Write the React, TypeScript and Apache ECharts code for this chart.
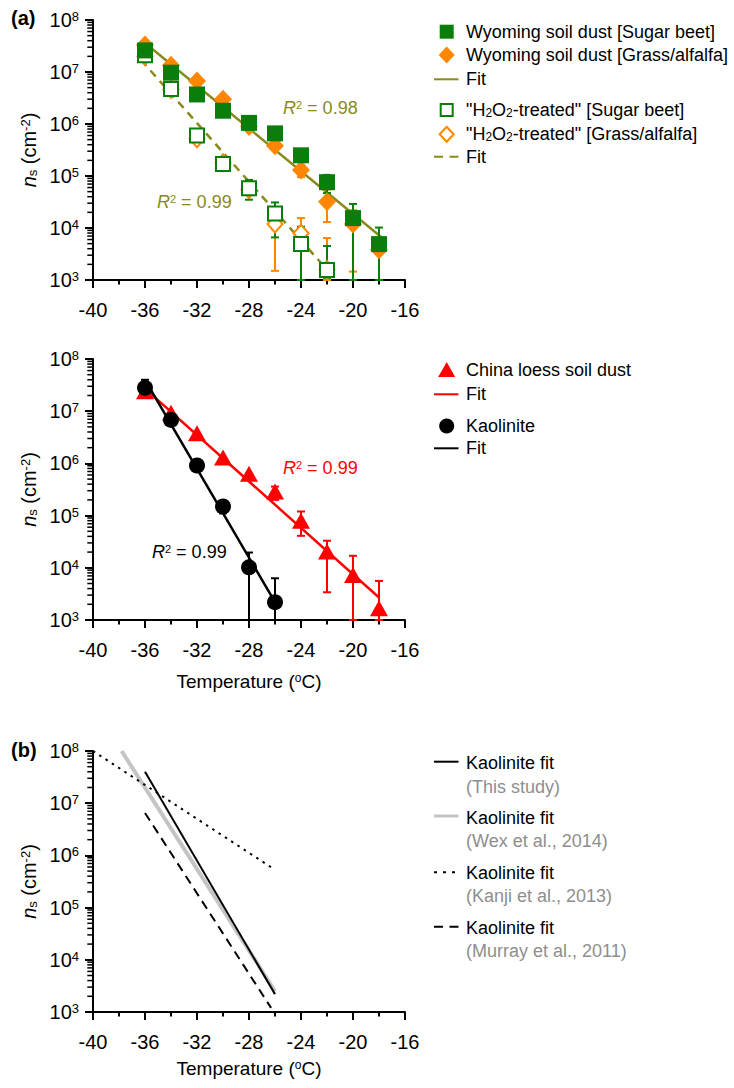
import React, { useEffect, useRef } from 'react';
import * as echarts from 'echarts';

const FONT = '"Liberation Sans", Arial, Helvetica, sans-serif';
const GREEN = '#0b7d0b';
const ORANGE = '#ff8600';
const OLIVE = '#8a8a1c';
const RED = '#ff0000';
const BLACK = '#000000';
const GRAY = '#c4c4c4';
const NOTE = '#8e8e8e';

// ---- panel (a) top: Wyoming soil dust ----
const T_WY = [-36, -34, -32, -30, -28, -26, -24, -22, -20, -18];
const SUGAR_BEET = [2.6e7, 9.7e6, 3.7e6, 1.8e6, 1.05e6, 6.6e5, 2.5e5, 7.6e4, 1.55e4, 4.9e3];
const GRASS_ALFALFA = [3.3e7, 1.35e7, 6.7e6, 3.0e6, 9.0e5, 3.8e5, 1.3e5, 3.2e4, 1.2e4, 3.8e3];
const SUGAR_BEET_ERR = [[-24, 1.6e5, 3.2e5], [-22, 4.7e4, 1.05e5], [-20, 1000, 2.9e4], [-18, 1000, 1.02e4]];
const GRASS_ALFALFA_ERR = [[-24, 9.5e4, 1.6e5], [-22, 1.3e4, 5.5e4], [-20, 1.45e3, 2.2e4], [-18, 1000, 6.0e3]];

const T_H2O2 = [-36, -34, -32, -30, -28, -26, -24, -22];
const H2O2_SUGAR = [2.1e7, 4.7e6, 6.0e5, 1.7e5, 5.8e4, 1.9e4, 4.9e3, 1.56e3];
const H2O2_GRASS = [2.0e7, 4.6e6, 5.2e5, 1.8e5, 5.5e4, 1.2e4, 7.9e3, 1.6e3];
const H2O2_SUGAR_ERR = [[-28, 3.5e4, 8.4e4], [-26, 6.6e3, 3.1e4], [-24, 1000, 1.06e4], [-22, 1.1e3, 4.5e3]];
const H2O2_GRASS_ERR = [[-26, 1.5e3, 1.6e4], [-24, 1000, 1.55e4], [-22, 1000, 6.4e3]];

const FIT_WY = [[-36, 3.6e7], [-17.6, 6.0e3]];
const FIT_H2O2 = [[-36.3, 1.7e7], [-22.2, 1.8e3]];

// ---- panel (a) bottom: China loess & kaolinite ----
const T_CHINA = [-36, -34, -32, -30, -28, -26, -24, -22, -20, -18];
const CHINA = [2.4e7, 9.3e6, 3.8e6, 1.3e6, 6.3e5, 2.9e5, 8.0e4, 2.05e4, 7.3e3, 1.67e3];
const CHINA_ERR = [[-26, 2.0e5, 3.6e5], [-24, 4.1e4, 1.2e5], [-22, 3.4e3, 3.3e4], [-20, 1000, 1.7e4], [-18, 1000, 5.6e3]];
const T_KAO = [-36, -34, -32, -30, -28, -26];
const KAO = [2.8e7, 6.8e6, 9.1e5, 1.5e5, 1.02e4, 2.2e3];
const KAO_ERR = [[-36, 2.0e7, 4.0e7], [-30, 1.1e5, 1.5e5], [-28, 1000, 1.96e4], [-26, 1000, 6.3e3]];
const FIT_CHINA = [[-36, 2.7e7], [-18, 2.7e3]];
const FIT_KAO = [[-36, 4.0e7], [-26, 2.2e3]];

// ---- panel (b): kaolinite fits ----
const FIT_THIS = [[-36, 4.0e7], [-26, 2.2e3]];
const FIT_WEX = [[-37.8, 1.0e8], [-26, 2.5e3]];
const FIT_KANJI = [[-40, 1.0e8], [-26, 5.3e5]];
const FIT_MURRAY = [[-36, 6.5e6], [-26.3, 1.2e3]];

// axis
const X_MIN = -40, X_MAX = -16, X_INT = 4;
const Y_MIN = 1e3, Y_MAX = 1e8;
const DECADES = [1e3, 1e4, 1e5, 1e6, 1e7];
const MINOR_MULT = [2, 3, 4, 5, 6, 7, 8, 9];

const GRIDS = [
  { left: 93, top: 20, width: 312, height: 260 },
  { left: 93, top: 359, width: 312, height: 261 },
  { left: 93, top: 751, width: 312, height: 261 },
];

const zip = (xs: number[], ys: number[]) => xs.map((x, i) => [x, ys[i]]);

function minorVals() {
  const out: number[][] = [];
  DECADES.forEach((d) => MINOR_MULT.forEach((m) => out.push([X_MIN, d * m])));
  return out;
}

function errRender(color: string) {
  return (params: any, api: any) => {
    const x = api.value(0), lo = api.value(1), hi = api.value(2);
    const a = api.coord([x, hi]);
    const b = api.coord([x, lo]);
    const w = 4;
    const st = { stroke: color, lineWidth: 2 };
    return {
      type: 'group',
      children: [
        { type: 'line', shape: { x1: a[0], y1: a[1], x2: b[0], y2: b[1] }, style: st },
        { type: 'line', shape: { x1: a[0] - w, y1: a[1], x2: a[0] + w, y2: a[1] }, style: st },
        { type: 'line', shape: { x1: b[0] - w, y1: b[1], x2: b[0] + w, y2: b[1] }, style: st },
      ],
    };
  };
}

const TICK_STYLE = { color: '#000', width: 2 };

function xAxis(idx: number, named: boolean, gap: number) {
  return {
    type: 'value',
    gridIndex: idx,
    min: X_MIN,
    max: X_MAX,
    interval: X_INT,
    name: named ? 'Temperature ({sup|o}C)' : '',
    nameLocation: 'middle',
    nameGap: gap,
    nameTextStyle: {
      fontSize: 19, color: BLACK, fontFamily: FONT,
      rich: { sup: { fontSize: 12, verticalAlign: 'top', lineHeight: 12, fontFamily: FONT, color: BLACK } },
    },
    axisLine: { show: true, onZero: false, lineStyle: { color: '#000', width: 2 } },
    axisTick: { show: true, inside: false, length: 8, lineStyle: TICK_STYLE },
    minorTick: { show: true, splitNumber: 2, length: 4.5, lineStyle: TICK_STYLE },
    axisLabel: { fontSize: 20, color: BLACK, fontFamily: FONT, margin: 20 },
    splitLine: { show: false },
    minorSplitLine: { show: false },
  };
}

function yAxis(idx: number) {
  return {
    type: 'log',
    logBase: 10,
    gridIndex: idx,
    min: Y_MIN,
    max: Y_MAX,
    splitNumber: 5,
    name: '{i|n}{sub|s} (cm{sup|-2})',
    nameLocation: 'middle',
    nameGap: 54,
    nameTextStyle: {
      fontSize: 20, color: BLACK, fontFamily: FONT,
      rich: {
        i: { fontStyle: 'italic', fontSize: 20, fontFamily: FONT, color: BLACK },
        sub: { fontSize: 13, verticalAlign: 'bottom', lineHeight: 13, fontFamily: FONT, color: BLACK },
        sup: { fontSize: 13, verticalAlign: 'top', lineHeight: 13, fontFamily: FONT, color: BLACK },
      },
    },
    axisLine: { show: true, onZero: false, lineStyle: { color: '#000', width: 2 } },
    axisTick: { show: true, inside: false, length: 8, lineStyle: TICK_STYLE },
    axisLabel: {
      margin: 14,
      formatter: (v: number) => '{b|10}{s|' + Math.round(Math.log10(v)) + '}',
      rich: {
        b: { fontSize: 20, color: BLACK, fontFamily: FONT },
        s: { fontSize: 13, color: BLACK, fontFamily: FONT, verticalAlign: 'top', lineHeight: 13 },
      },
    },
    splitLine: { show: false },
  };
}

function lineSeries(idx: number, data: number[][], color: string, width: number, type: any, z = 2) {
  return {
    type: 'line', xAxisIndex: idx, yAxisIndex: idx, data, showSymbol: false, silent: true, z,
    lineStyle: { color, width, type, cap: 'butt' },
  };
}

function errSeries(idx: number, data: number[][], color: string) {
  return {
    type: 'custom', xAxisIndex: idx, yAxisIndex: idx, data, z: 3, silent: true, clip: false,
    encode: { x: 0, y: [1, 2] },
    renderItem: errRender(color),
  };
}

function scatter(idx: number, data: number[][], symbol: string, size: any, fill: string, border: string, bw: number) {
  return {
    type: 'scatter', xAxisIndex: idx, yAxisIndex: idx, data, symbol, symbolSize: size, z: 4, silent: true,
    itemStyle: { color: fill, borderColor: border, borderWidth: bw, opacity: 1 },
  };
}

// log-axis minor ticks: thin rect symbols just left of the y axis
function minorSeries(idx: number) {
  return {
    type: 'scatter', xAxisIndex: idx, yAxisIndex: idx, data: minorVals(), z: 5, silent: true, clip: false,
    symbol: 'rect', symbolSize: [5, 1.5], symbolOffset: [-3.2, 0],
    itemStyle: { color: '#000', opacity: 1 },
  };
}

// legend helpers (graphic)
const LX = 446.7, TX = 466;
function legText(y: number, text: string, color = BLACK) {
  return {
    type: 'text', x: TX, y,
    style: {
      text, fill: color, fontSize: 18, fontFamily: FONT, verticalAlign: 'middle',
      rich: { sub: { fontSize: 12, verticalAlign: 'bottom', lineHeight: 12, fontFamily: FONT, fill: color } },
    },
  };
}
function legLine(y: number, color: string, width = 2, dash: any = null) {
  return { type: 'line', shape: { x1: 434, y1: y, x2: 458.5, y2: y }, style: { stroke: color, lineWidth: width, lineDash: dash } };
}
function r2(x: number, y: number, val: string, color: string) {
  return {
    type: 'text', x, y,
    style: {
      text: '{i|R}{sup|2} = ' + val, fill: color, fontSize: 18, fontFamily: FONT, verticalAlign: 'middle',
      rich: {
        i: { fontStyle: 'italic', fontSize: 18, fontFamily: FONT, fill: color },
        sup: { fontSize: 11, verticalAlign: 'top', lineHeight: 11, fontFamily: FONT, fill: color },
      },
    },
  };
}

export default function App() {
  const ref = useRef<HTMLDivElement>(null);
  useEffect(() => {
    if (!ref.current) return;
    const chart = echarts.init(ref.current, null, { renderer: 'svg' });
    const option: any = {
      animation: false,
      backgroundColor: '#ffffff',
      textStyle: { fontFamily: FONT },
      grid: GRIDS.map((g) => ({ ...g, containLabel: false })),
      xAxis: [xAxis(0, false, 0), xAxis(1, true, 52), xAxis(2, true, 47)],
      yAxis: [yAxis(0), yAxis(1), yAxis(2)],
      series: [
        // panel 1
        lineSeries(0, FIT_WY, OLIVE, 2.5, 'solid'),
        lineSeries(0, FIT_H2O2, OLIVE, 2.5, [8, 6]),
        errSeries(0, H2O2_GRASS_ERR, ORANGE),
        errSeries(0, H2O2_SUGAR_ERR, GREEN),
        errSeries(0, GRASS_ALFALFA_ERR, ORANGE),
        errSeries(0, SUGAR_BEET_ERR, GREEN),
        scatter(0, zip(T_H2O2, H2O2_GRASS), 'diamond', [15, 17], '#ffffff', ORANGE, 2),
        scatter(0, zip(T_H2O2, H2O2_SUGAR), 'rect', 14, '#ffffff', GREEN, 2),
        scatter(0, zip(T_WY, GRASS_ALFALFA), 'diamond', [18, 19], ORANGE, ORANGE, 0),
        scatter(0, zip(T_WY, SUGAR_BEET), 'rect', 16, GREEN, GREEN, 0),
        // panel 2
        lineSeries(1, FIT_CHINA, RED, 2.5, 'solid'),
        lineSeries(1, FIT_KAO, BLACK, 2.5, 'solid'),
        errSeries(1, CHINA_ERR, RED),
        errSeries(1, KAO_ERR, BLACK),
        scatter(1, zip(T_CHINA, CHINA), 'triangle', [18, 16], RED, RED, 0),
        scatter(1, zip(T_KAO, KAO), 'circle', 16, BLACK, BLACK, 0),
        // panel 3
        lineSeries(2, FIT_WEX, GRAY, 4, 'solid', 2),
        lineSeries(2, FIT_THIS, BLACK, 2, 'solid', 3),
        lineSeries(2, FIT_KANJI, BLACK, 2, [2.5, 5], 3),
        lineSeries(2, FIT_MURRAY, BLACK, 2, [9, 6], 3),
        // y-axis log minor ticks
        minorSeries(0), minorSeries(1), minorSeries(2),
      ],
      graphic: [
        { type: 'text', x: 11, y: 18, style: { text: '(a)', fontSize: 20, fontWeight: 'bold', fontFamily: FONT, fill: BLACK, verticalAlign: 'middle' } },
        { type: 'text', x: 11, y: 750, style: { text: '(b)', fontSize: 20, fontWeight: 'bold', fontFamily: FONT, fill: BLACK, verticalAlign: 'middle' } },
        // legend panel 1
        { type: 'rect', shape: { x: LX - 7, y: 31.7 - 7, width: 14, height: 14 }, style: { fill: GREEN } },
        legText(31.7, 'Wyoming soil dust [Sugar beet]'),
        { type: 'polygon', shape: { points: [[LX, 55 - 8.5], [LX + 8, 55], [LX, 55 + 8.5], [LX - 8, 55]] }, style: { fill: ORANGE } },
        legText(55, 'Wyoming soil dust [Grass/alfalfa]'),
        legLine(79.3, OLIVE, 2),
        legText(79.3, 'Fit'),
        { type: 'rect', shape: { x: LX - 6, y: 110 - 6, width: 12, height: 12 }, style: { fill: '#fff', stroke: GREEN, lineWidth: 2 } },
        legText(110, '"H{sub|2}O{sub|2}-treated" [Sugar beet]'),
        { type: 'polygon', shape: { points: [[LX, 134.3 - 7.5], [LX + 7, 134.3], [LX, 134.3 + 7.5], [LX - 7, 134.3]] }, style: { fill: '#fff', stroke: ORANGE, lineWidth: 2 } },
        legText(134.3, '"H{sub|2}O{sub|2}-treated" [Grass/alfalfa]'),
        legLine(156.7, OLIVE, 2, [9, 6.5]),
        legText(156.7, 'Fit'),
        // legend panel 2
        { type: 'polygon', shape: { points: [[LX, 370 - 8], [LX + 8.5, 370 + 7], [LX - 8.5, 370 + 7]] }, style: { fill: RED } },
        legText(370, 'China loess soil dust'),
        legLine(394.3, RED, 2),
        legText(394.3, 'Fit'),
        { type: 'circle', shape: { cx: LX, cy: 426, r: 7.5 }, style: { fill: BLACK } },
        legText(426, 'Kaolinite'),
        legLine(448.3, BLACK, 2),
        legText(448.3, 'Fit'),
        // legend panel 3
        legLine(761.7, BLACK, 2),
        legText(763.3, 'Kaolinite fit'),
        legText(786.7, '(This study)', NOTE),
        legLine(816, GRAY, 3),
        legText(818.3, 'Kaolinite fit'),
        legText(841, '(Wex et al., 2014)', NOTE),
        legLine(872.3, BLACK, 2, [3, 6]),
        legText(873.3, 'Kaolinite fit'),
        legText(896, '(Kanji et al., 2013)', NOTE),
        legLine(926.7, BLACK, 2, [9, 6.5]),
        legText(928.3, 'Kaolinite fit'),
        legText(950.7, '(Murray et al., 2011)', NOTE),
        // R² labels
        r2(283, 108, '0.98', OLIVE),
        r2(157, 202, '0.99', OLIVE),
        r2(283, 468, '0.99', RED),
        r2(152, 552, '0.99', BLACK),
      ],
    };
    chart.setOption(option);
    return () => chart.dispose();
  }, []);
  return (
    <div ref={ref} style={{ position: 'fixed', left: 0, top: 0, width: 734, height: 1088, background: '#fff' }} />
  );
}
